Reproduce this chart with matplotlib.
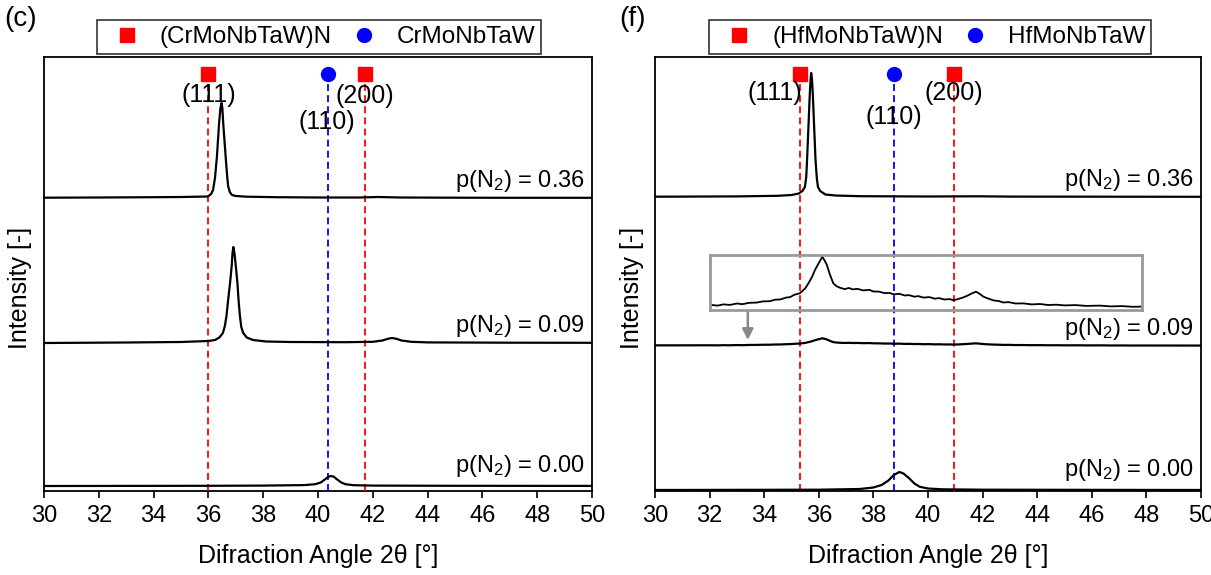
import matplotlib
matplotlib.use("Agg")
import matplotlib.pyplot as plt
from matplotlib.lines import Line2D

plt.rcParams['font.family'] = ['Liberation Sans', 'DejaVu Sans']
plt.rcParams['mathtext.fontset'] = 'custom'
plt.rcParams['mathtext.rm'] = 'Liberation Sans'
plt.rcParams['mathtext.default'] = 'regular'
plt.rcParams['lines.scale_dashes'] = False

# ---------------- data ----------------
x_ticks = [30, 32, 34, 36, 38, 40, 42, 44, 46, 48, 50]
p_labels = ['p(N$_2$) = 0.36', 'p(N$_2$) = 0.09', 'p(N$_2$) = 0.00']

# panel (c): CrMoNbTaW
cr_title = '(c)'
cr_legend = ['(CrMoNbTaW)N', 'CrMoNbTaW']
cr_nitride_peaks = [36.0, 41.7]      # (111), (200)
cr_metal_peaks = [40.35]             # (110)

cr036_x = [30, 32, 34, 35, 35.6, 35.98, 36.1, 36.17, 36.24, 36.31, 36.39, 36.44, 36.48, 36.51,
           36.54, 36.63, 36.69, 36.72, 36.78, 36.86, 37.0, 37.4, 38.5, 40, 41.5, 42.2, 43, 45, 47, 50]
cr036_y = [0.3, 0.5, 0.8, 1.0, 1.3, 1.5, 4, 8, 20, 41, 75, 90, 95, 90,
           75, 41, 20, 12, 6, 3, 2, 1.3, 0.8, 0.5, 0.5, 1.0, 0.5, 0.3, 0.2, 0.2]

cr009_x = [30, 33, 35, 36.0, 36.24, 36.4, 36.53, 36.6, 36.66, 36.72, 36.79, 36.85, 36.88, 36.91,
           36.95, 37.0, 37.06, 37.1, 37.15, 37.2, 37.27, 37.4, 37.63, 38.1, 39, 41, 42.0, 42.35,
           42.55, 42.7, 42.85, 43.05, 43.4, 44, 47, 50]
cr009_y = [0, 0.5, 1, 2, 3, 5.5, 10, 17, 27, 43, 60, 77, 90, 96,
           90, 77, 60, 43, 27, 16, 10, 5.5, 3, 1.5, 1, 0.8, 1.2, 2.5,
           4.2, 5, 4.3, 2.5, 1.2, 0.6, 0.3, 0.2]

cr000_x = [30, 36, 38, 39.5, 39.9, 40.1, 40.25, 40.38, 40.48, 40.58, 40.7, 40.85, 41.0, 41.3, 42, 45, 50]
cr000_y = [0, 0.2, 0.4, 0.9, 1.8, 3.5, 6.5, 9.3, 10, 9.2, 6.5, 3.5, 1.8, 0.8, 0.4, 0.2, 0.1]

# panel (f): HfMoNbTaW
hf_title = '(f)'
hf_legend = ['(HfMoNbTaW)N', 'HfMoNbTaW']
hf_nitride_peaks = [35.3, 40.95]
hf_metal_peaks = [38.75]

hf036_x = [30, 33, 34.5, 35.0, 35.27, 35.4, 35.49, 35.54, 35.57, 35.62, 35.67, 35.7, 35.72, 35.75,
           35.78, 35.83, 35.88, 35.93, 35.97, 36.05, 36.24, 36.6, 37.5, 40, 41.8, 43, 50]
hf036_y = [0.3, 0.6, 1.2, 2, 3.5, 6, 10, 20, 37, 70, 103, 118, 124, 118,
           103, 70, 37, 18, 10, 6, 2.5, 1.5, 0.8, 0.5, 0.7, 0.4, 0.2]

hf009_x = [30, 31, 32.08, 32.3, 32.5, 32.75, 33.0, 33.2, 33.45, 33.72, 33.95, 34.2, 34.4, 34.6,
           34.8, 34.95, 35.1, 35.31, 35.5, 35.62, 35.75, 35.86, 36.0, 36.13, 36.2, 36.29, 36.4,
           36.53, 36.65, 36.78, 36.95, 37.1, 37.25, 37.4, 37.63, 37.85, 38.0, 38.2, 38.4, 38.6,
           38.75, 38.95, 39.15, 39.3, 39.5, 39.65, 39.83, 40.05, 40.25, 40.4, 40.6, 40.8, 40.93,
           41.1, 41.25, 41.42, 41.6, 41.76, 41.9, 42.03, 42.2, 42.4, 42.6, 42.76, 42.95, 43.2,
           43.5, 43.8, 44.1, 44.4, 44.71, 45.0, 45.4, 45.8, 46.3, 46.7, 47.1, 47.5, 47.89, 50]
hf009_y = [4.5, 4.6, 5.0, 4.4, 5.6, 5.1, 6.5, 5.8, 7.2, 7.4, 8.6, 8.8, 10.3, 10.6,
           12.4, 12.9, 15.2, 16.8, 21.5, 26.7, 33, 40, 47, 53.3, 50, 45.5, 36,
           26.7, 23.8, 22.2, 20.9, 22.0, 20.6, 21.2, 19.6, 20.2, 18.5, 18.4, 16.9, 17.0,
           15.6, 16.2, 14.5, 14.9, 13.3, 13.9, 12.4, 12.9, 11.3, 11.9, 10.5, 10.9, 9.8,
           10.9, 12.2, 14.0, 16.5, 18.3, 16.0, 13.3, 11.5, 9.6, 8.9, 7.5, 7.9, 6.5,
           6.6, 5.6, 6.0, 5.0, 5.3, 4.6, 4.9, 4.1, 4.4, 3.6, 3.9, 3.2, 3.4, 3]

hf000_x = [30, 36, 37.5, 38.0, 38.3, 38.55, 38.75, 38.95, 39.1, 39.3, 39.5, 39.7, 40.0, 40.5, 42, 50]
hf000_y = [0, 0.3, 1, 2.5, 5, 9.5, 15, 18, 16.5, 12, 6.5, 3.2, 1.5, 0.7, 0.3, 0]

# stacking offsets and scale factors
cr_offsets = [293, 148, 5]
hf_offsets = [294, 145, 1]
hf_scales = [1.0, 0.145, 1.0]

# ---------------- figure ----------------
fig = plt.figure(figsize=(12.11, 5.75), dpi=100)
ax1 = fig.add_axes([44 / 1211, 84 / 575, 548 / 1211, 434 / 575])
ax2 = fig.add_axes([655 / 1211, 84 / 575, 546 / 1211, 434 / 575])

RED = '#ff0000'
BLUE = '#0000ff'
YMAX = 434
MARK_Y = 417


def panel(ax, curves, offsets, scales, nit, met, lab_pos, legend_names, legend_x, letter, letter_x):
    for (xs, ys), off, sc in zip(curves, offsets, scales):
        ax.plot(xs, [off + sc * v for v in ys], color='black', lw=1.6, zorder=4)
    for xv in nit:
        ax.plot([xv, xv], [0, 408], color=RED, lw=1.3, ls=(0, (5, 3)), zorder=3)
        ax.plot([xv], [MARK_Y], marker='s', ms=10, color=RED, ls='none', zorder=5, clip_on=False)
    for xv in met:
        ax.plot([xv, xv], [0, 408], color=BLUE, lw=1.3, ls=(0, (5, 3)), zorder=3)
        ax.plot([xv], [MARK_Y], marker='o', ms=10, color=BLUE, ls='none', zorder=5, clip_on=False)
    for txt, (xv, yv, ha) in zip(['(111)', '(200)', '(110)'], lab_pos):
        ax.text(xv, yv, txt, ha=ha, va='center', fontsize=18, zorder=6)
    for lbl, off in zip(p_labels, offsets):
        ax.text(49.75, off + (4 if off > 10 else 7), lbl, ha='right', va='bottom', fontsize=17, zorder=6)
    ax.set_xlim(30, 50)
    ax.set_ylim(0, YMAX)
    ax.set_xticks(x_ticks)
    ax.set_xticklabels([str(t) for t in x_ticks], fontsize=17)
    ax.set_yticks([])
    ax.tick_params(axis='x', direction='out', length=5, width=1.2, pad=5)
    for s in ax.spines.values():
        s.set_linewidth(1.3)
    ax.set_xlabel('Difraction Angle 2θ [°]', fontsize=18)
    ax.xaxis.set_label_coords(0.5, -0.122)
    ax.xaxis.label.set_va('top')
    handles = [Line2D([], [], marker='s', color=RED, ls='none', ms=10),
               Line2D([], [], marker='o', color=BLUE, ls='none', ms=10)]
    leg = fig.legend(handles, legend_names, loc='center', ncol=2, fontsize=17.5,
                     bbox_to_anchor=(legend_x, 1 - 37 / 575), frameon=True, fancybox=False,
                     edgecolor='black', borderpad=0.25, handletextpad=0.35, columnspacing=0.3,
                     handlelength=2.0, borderaxespad=0)
    leg.get_frame().set_linewidth(1.2)
    fig.text(letter_x, 1 - 6 / 575, letter, ha='left', va='top', fontsize=20)


panel(ax1, [(cr036_x, cr036_y), (cr009_x, cr009_y), (cr000_x, cr000_y)], cr_offsets, [1, 1, 1],
      cr_nitride_peaks, cr_metal_peaks,
      [(36.0, 396, 'center'), (41.7, 395, 'center'), (40.33, 369, 'center')],
      cr_legend, 319 / 1211, cr_title, 4 / 1211)
panel(ax2, [(hf036_x, hf036_y), (hf009_x, hf009_y), (hf000_x, hf000_y)], hf_offsets, hf_scales,
      hf_nitride_peaks, hf_metal_peaks,
      [(35.4, 398, 'right'), (40.95, 398, 'center'), (38.75, 374, 'center')],
      hf_legend, 930 / 1211, hf_title, 619 / 1211)

fig.text(20 / 1211, 1 - 288 / 575, 'Intensity [-]', rotation=90, ha='center', va='center', fontsize=18)
fig.text(632 / 1211, 1 - 288 / 575, 'Intensity [-]', rotation=90, ha='center', va='center', fontsize=18)

# inset magnifying the p(N2)=0.09 pattern of panel (f)
ins = ax2.inset_axes([32.0, 181, 15.85, 55], transform=ax2.transData)
ins.plot(hf009_x, hf009_y, color='black', lw=1.3)
ins.set_xlim(32.0, 47.85)
ins.set_ylim(0, 55)
ins.set_xticks([])
ins.set_yticks([])
ins.patch.set_alpha(0)
for s in ins.spines.values():
    s.set_color('#999999')
    s.set_linewidth(2)
ax2.annotate('', xy=(33.4, 151), xytext=(33.4, 180),
             arrowprops=dict(arrowstyle='-|>', color='#888888', lw=1.8, mutation_scale=16,
                             shrinkA=0, shrinkB=0))

fig.savefig('out.png', dpi=100)
